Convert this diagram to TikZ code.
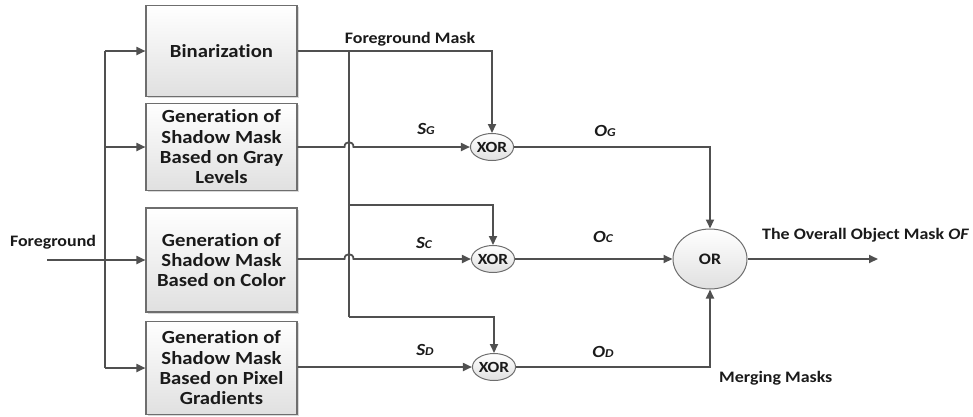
\documentclass[tikz,border=0pt]{standalone}
\usepackage{fontspec}
\setmainfont{Carlito}[FakeStretch=1.12, Ligatures={NoCommon,NoContextual}]
\usetikzlibrary{arrows.meta,shapes.geometric,shadows}
\definecolor{linec}{HTML}{505050}
\definecolor{boxline}{HTML}{6E6E6E}
\definecolor{fillbot}{HTML}{E0E0E0}
\definecolor{txt}{HTML}{1A1A1A}
\newcommand\mysub[2]{{\fontsize{17}{18}\selectfont #1}{\fontsize{12}{14}\selectfont #2}}
\begin{document}
\begin{tikzpicture}[x=1pt,y=-1pt,
  procbox/.style={draw=boxline, line width=1.1pt, top color=white, bottom color=fillbot,
    minimum width=151pt, inner sep=0pt, align=center, text=txt,
    font=\fontsize{18.5}{20.3}\selectfont\bfseries,
    drop shadow={shadow xshift=1.5pt, shadow yshift=-1.5pt, fill=black!25, opacity=.6}},
  gate/.style={ellipse, draw=boxline, line width=1pt, top color=white, bottom color=fillbot,
    inner sep=0pt, text=txt, font=\fontsize{15.5}{16}\selectfont\bfseries},
  wire/.style={draw=linec, line width=1.8pt},
  conn/.style={wire, -{Triangle[length=9pt,width=8pt]}},
  lbl/.style={inner sep=0pt, text=txt, font=\fontsize{16}{18}\selectfont\bfseries},
  ilbl/.style={inner sep=0pt, text=txt, font=\bfseries\itshape}
]
\useasboundingbox (0,0) rectangle (973,416);

% process boxes
\node[procbox, minimum height=91pt] (box1) at (221.5,51) {Binarization};
\node[procbox, minimum height=87pt] (box2) at (221.5,147) {Generation of\\Shadow Mask\\Based on Gray\\Levels};
\node[procbox, minimum height=104pt] (box3) at (221.5,260) {Generation of\\Shadow Mask\\Based on Color};
\node[procbox, minimum height=93pt] (box4) at (221.5,368) {Generation of\\Shadow Mask\\Based on Pixel\\Gradients};

% gates
\node[gate, minimum width=40pt, minimum height=27pt] (xor1) at (492,147) {XOR};
\node[gate, minimum width=40pt, minimum height=27pt] (xor2) at (493,259) {XOR};
\node[gate, minimum width=40pt, minimum height=27pt] (xor3) at (494,367) {XOR};
\node[gate, minimum width=74pt, minimum height=60pt, font=\fontsize{16}{17}\selectfont\bfseries] (orgate) at (710,259) {OR};

% input distribution
\coordinate (fgin) at (47,260);
\coordinate (vtop) at (105,51);
\coordinate (vbot) at (105,368);
\draw[wire] (vtop) -- (vbot);
\draw[conn] (fgin) -- (box3.west);
\draw[conn] (vtop) -- (box1.west);
\draw[conn] (vtop |- box2.west) -- (box2.west);
\draw[conn] (vbot) -- (box4.west);

% foreground mask bus
\coordinate (bt) at (349,51);
\coordinate (bc) at (349,205);
\coordinate (bb) at (349,317);
\draw[conn] (box1.east) -| (xor1.north);
\draw[wire] (bt) -- (bb);
\draw[conn] (bc) -| (xor2.north);
\draw[conn] (bb) -| (xor3.north);

% shadow masks into XORs (with jumps over the bus)
\coordinate (j1a) at (344.5,147);
\coordinate (j1b) at (353.5,147);
\coordinate (j2a) at (344.5,259);
\coordinate (j2b) at (353.5,259);
\draw[conn] (box2.east |- j1a) -- (j1a) .. controls (344.5,140.5) and (353.5,140.5) .. (j1b) -- (xor1.west);
\draw[conn] (box3.east |- j2a) -- (j2a) .. controls (344.5,252.5) and (353.5,252.5) .. (j2b) -- (xor2.west);
\draw[conn] (box4.east |- xor3.west) -- (xor3.west);

% XOR outputs to OR
\draw[conn] (xor1.east) -| (orgate.north);
\draw[conn] (xor2.east) -- (orgate.west);
\draw[conn] (xor3.east) -| (orgate.south);
\coordinate (out) at (878,259);
\draw[conn] (orgate.east) -- (out);

% labels
\node[lbl] (lfg) at (53,242) {Foreground};
\node[lbl] (lfgm) at (410,39) {Foreground Mask};
\node[ilbl] (lsg) at (426,129) {\mysub{S}{G}};
\node[ilbl] (lsc) at (424,243) {\mysub{S}{C}};
\node[ilbl] (lsd) at (425,350) {\mysub{S}{D}};
\node[ilbl] (log) at (605,131) {\mysub{O}{G}};
\node[ilbl] (loc) at (603,237) {\mysub{O}{C}};
\node[ilbl] (lod) at (603,352) {\mysub{O}{D}};
\node[lbl, anchor=west] (lof) at (762,235) {The Overall Object Mask \textit{OF}};
\node[lbl, anchor=west] (lmm) at (719,378) {Merging Masks};
\end{tikzpicture}
\end{document}
